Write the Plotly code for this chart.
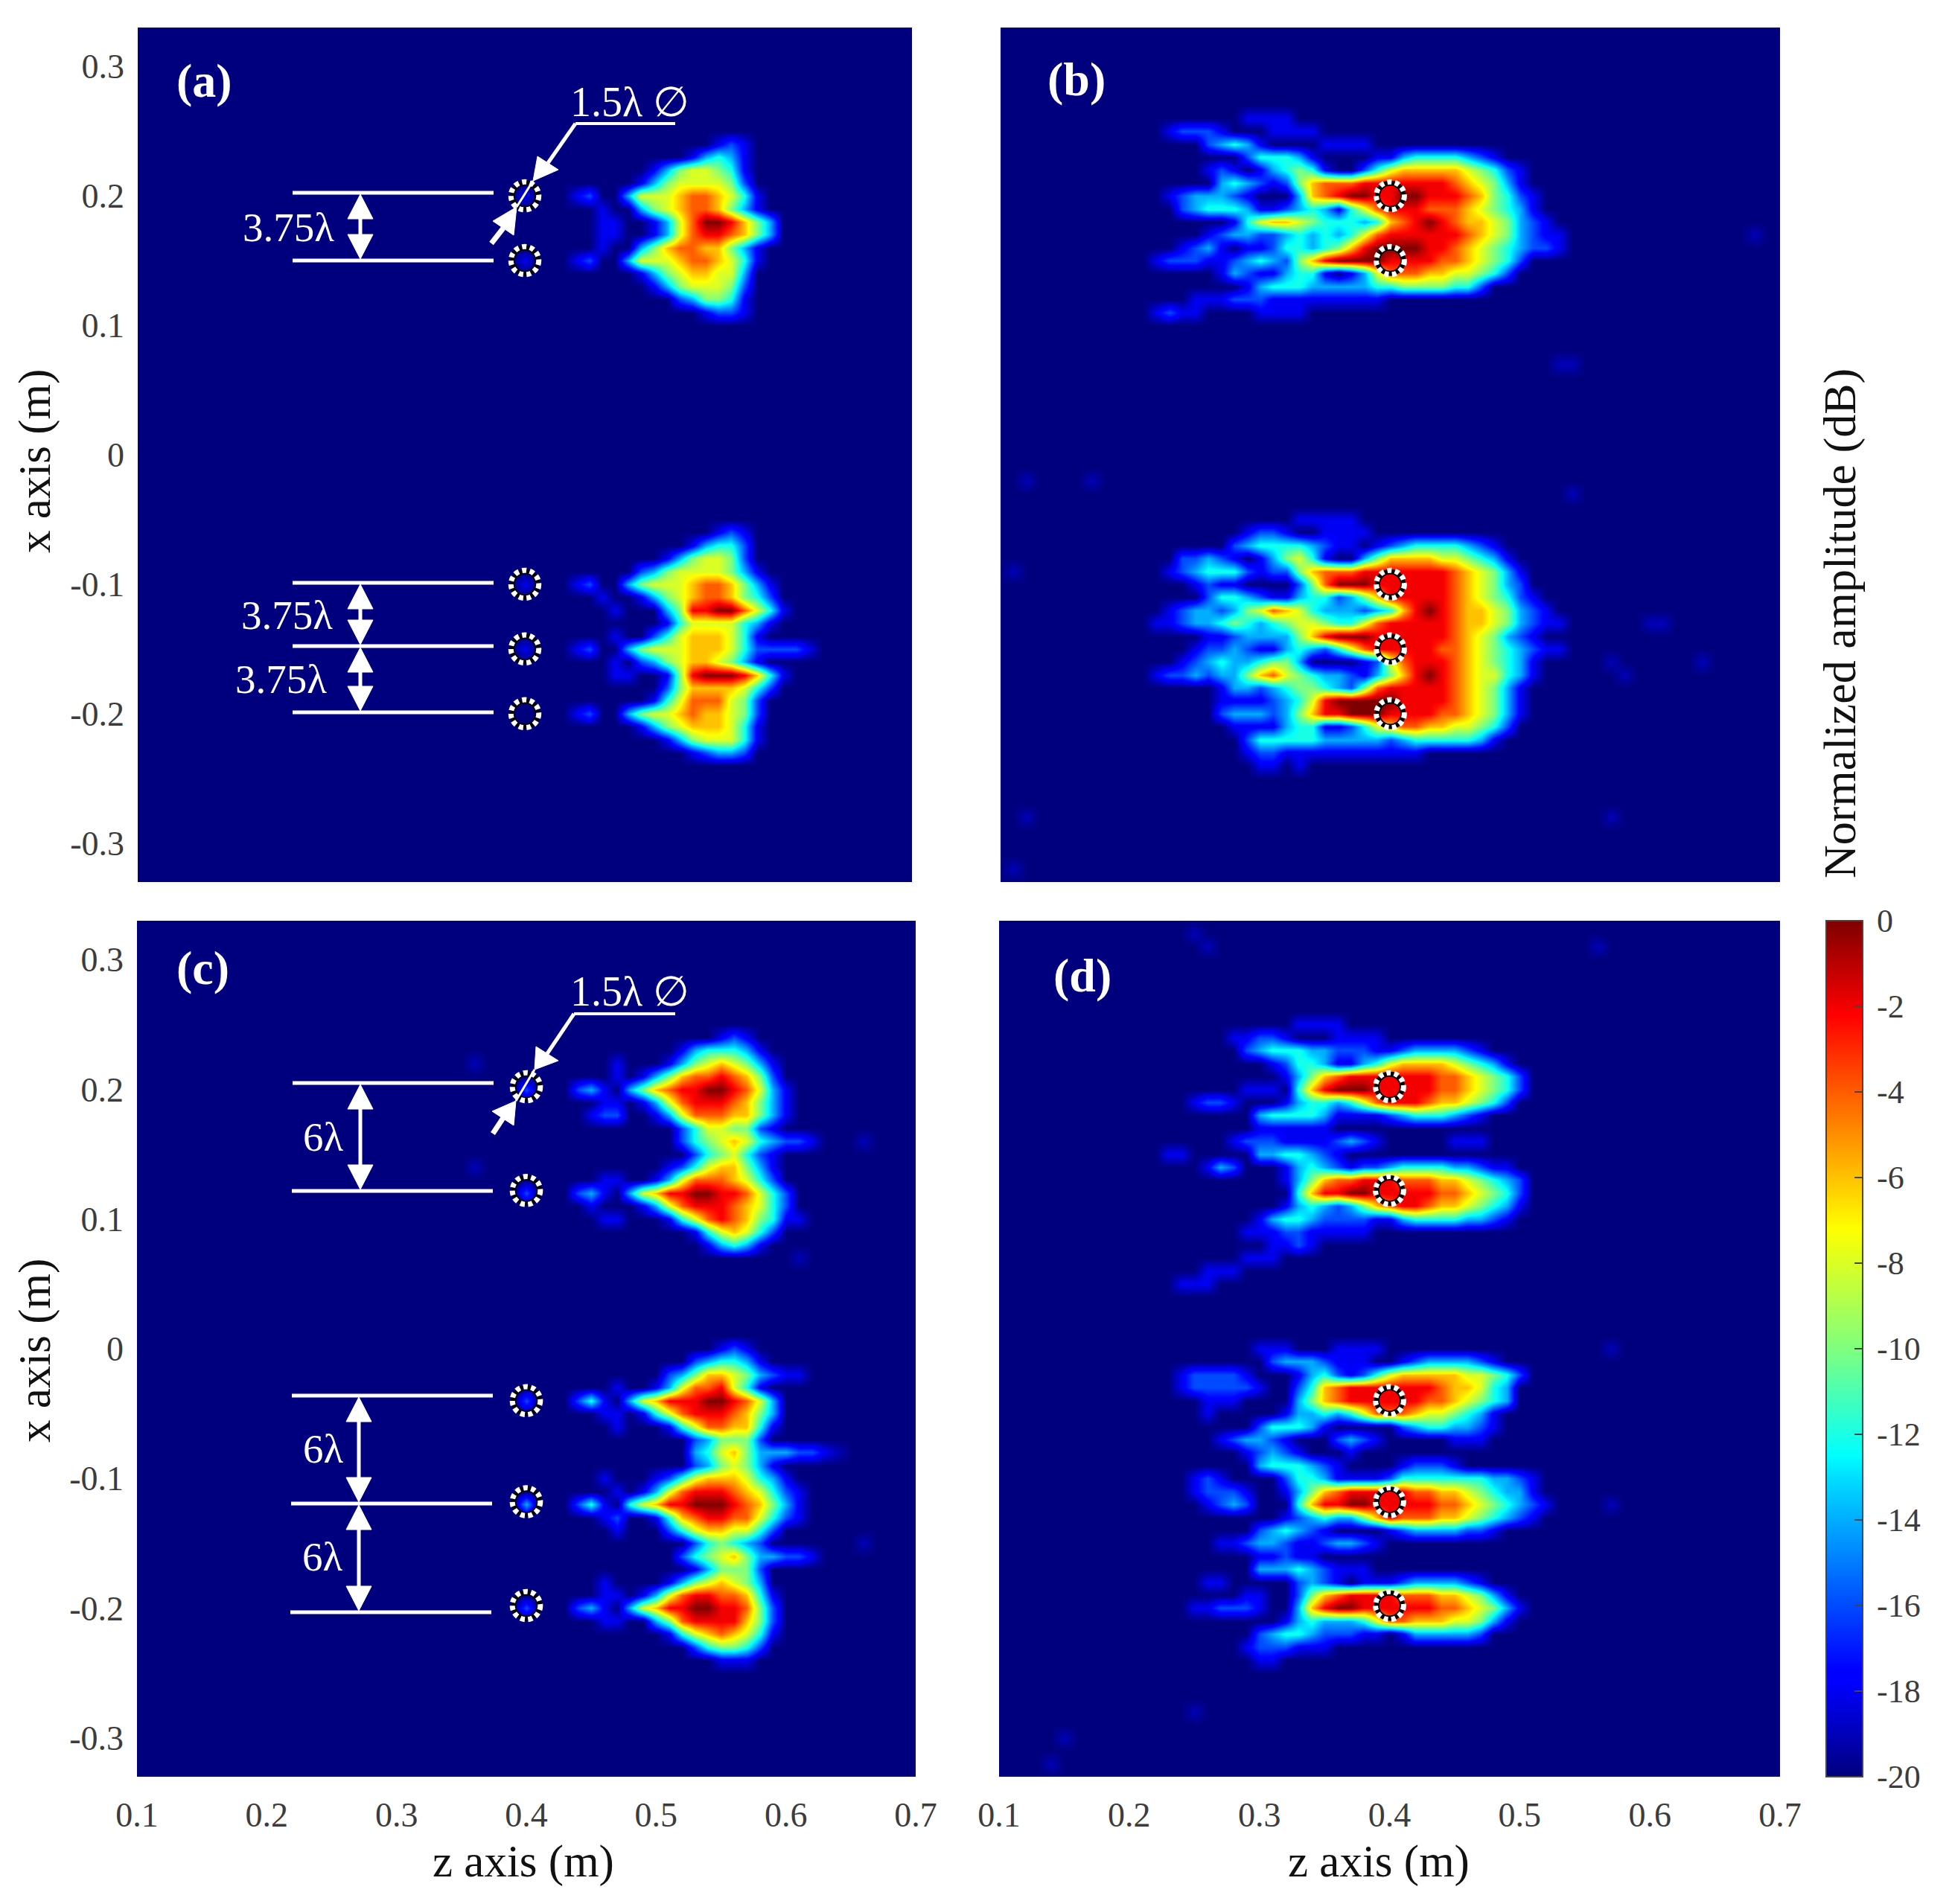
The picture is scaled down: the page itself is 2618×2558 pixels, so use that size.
import numpy as np
import plotly.graph_objects as go

W = 2618
H = 2558

Z_TICKS = [0.1, 0.2, 0.3, 0.4, 0.5, 0.6, 0.7]
Z_LABELS = ["0.1", "0.2", "0.3", "0.4", "0.5", "0.6", "0.7"]
X_TICKS = [0.3, 0.2, 0.1, 0, -0.1, -0.2, -0.3]
X_LABELS = ["0.3", "0.2", "0.1", "0", "-0.1", "-0.2", "-0.3"]
DB_TICKS = [0, -2, -4, -6, -8, -10, -12, -14, -16, -18, -20]
DB_LABELS = ["\u20090", "\u2009-2", "\u2009-4", "\u2009-6", "\u2009-8", "\u2009-10", "\u2009-12",
             "\u2009-14", "\u2009-16", "\u2009-18", "\u2009-20"]

# targets, x position in m (all at z = 0.4 m)
TARGET_Z = 0.4
A_TARGETS = [0.2, 0.15, -0.1, -0.15, -0.2]
C_TARGETS = [0.202, 0.122, -0.04, -0.118, -0.198]

# image values, one run per tuple: (x, first z, levels)
# a level is one hex digit, dB = -20 + 2 * level
A_ROWS = [
    (0.24, 0.55, "121"), (0.23, 0.53, "13431"), (0.22, 0.50, "13566541"),
    (0.21, 0.49, "135666652"), (0.20, 0.44, "12"), (0.20, 0.48, "36667887641"),
    (0.20, 0.40, "1"), (0.19, 0.46, "1"), (0.19, 0.49, "3567887531"),
    (0.18, 0.46, "11"), (0.18, 0.50, "1368aa9753"), (0.17, 0.46, "11"),
    (0.17, 0.50, "1368998753"), (0.16, 0.46, "1"), (0.16, 0.49, "3578877531"),
    (0.15, 0.40, "1"), (0.15, 0.44, "12"), (0.15, 0.48, "36667887641"),
    (0.14, 0.49, "135677663"), (0.13, 0.50, "13566652"), (0.12, 0.52, "235541"),
    (0.11, 0.54, "1221"),
    (-0.06, 0.55, "121"), (-0.07, 0.53, "13442"), (-0.08, 0.51, "1356652"),
    (-0.09, 0.49, "2356666531"), (-0.10, 0.40, "1"), (-0.10, 0.44, "12"),
    (-0.10, 0.48, "356667887531"), (-0.11, 0.46, "1"), (-0.11, 0.49, "13567887542"),
    (-0.12, 0.47, "1"), (-0.12, 0.51, "3599aa8641"), (-0.13, 0.51, "146666431"),
    (-0.14, 0.47, "1"), (-0.14, 0.50, "246777641"), (-0.15, 0.40, "1"),
    (-0.15, 0.44, "12"), (-0.15, 0.48, "356667776422221"), (-0.16, 0.47, "1"),
    (-0.16, 0.49, "2356776531"), (-0.17, 0.47, "11"), (-0.17, 0.51, "159aaa9741"),
    (-0.18, 0.51, "257777642"), (-0.19, 0.50, "146888652"), (-0.20, 0.44, "12"),
    (-0.20, 0.48, "35667877652"), (-0.21, 0.49, "1356777641"), (-0.22, 0.51, "13566641"),
    (-0.23, 0.53, "12332"),
]

B_ROWS = [
    (0.26, 0.29, "1111"), (0.25, 0.23, "12221"), (0.25, 0.31, "1111"),
    (0.24, 0.26, "23431"), (0.24, 0.35, "1111"), (0.23, 0.29, "244431"),
    (0.23, 0.39, "1134444321"), (0.22, 0.26, "121"), (0.22, 0.30, "134541"),
    (0.22, 0.38, "2467777765421"), (0.21, 0.27, "343212578889999999876531"),
    (0.20, 0.23, "1233321"), (0.20, 0.33, "3789aa99aa999875421"),
    (0.19, 0.24, "2344431123431468999888765431"),
    (0.18, 0.28, "146776544434789a987765321"),
    (0.17, 0.26, "1233223434346899999987653211"),
    (0.16, 0.24, "123101124434579aaaa99876543221"),
    (0.15, 0.22, "12221123432579aaaa99998876542"),
    (0.14, 0.27, "13211344101368887766542"),
    (0.13, 0.29, "1344433333445555442"),
    (0.12, 0.25, "111222111111111"), (0.11, 0.22, "1211"), (0.11, 0.30, "1111"),
    (-0.05, 0.33, "11111"), (-0.06, 0.29, "1221"), (-0.06, 0.35, "1111"),
    (-0.07, 0.28, "2344443211"), (-0.07, 0.39, "1234444321"), (-0.08, 0.24, "22321"),
    (-0.08, 0.30, "135641"), (-0.08, 0.38, "357777665431"),
    (-0.09, 0.23, "1234442122578889999999876531"),
    (-0.10, 0.25, "1211"), (-0.10, 0.33, "258aaa999999876532"),
    (-0.11, 0.26, "24432113442357999998765421"),
    (-0.12, 0.23, "12332356876433323479a987765321"),
    (-0.13, 0.22, "11233454345665446899999877653211"),
    (-0.14, 0.26, "1123333579aaa9999998765321"),
    (-0.15, 0.25, "12232113432468999998876543211"),
    (-0.16, 0.24, "1234334553"), (-0.16, 0.38, "12"),
    (-0.16, 0.40, "689998765431"),
    (-0.17, 0.22, "122323357865433213579a98766431"),
    (-0.18, 0.27, "133234554325899999876531"),
    (-0.19, 0.27, "111123469aaaaa9999876531"),
    (-0.20, 0.27, "2333235799aaa99998876531"),
    (-0.21, 0.28, "1111344112467887766542"),
    (-0.22, 0.29, "24444433333234444431"),
    (-0.23, 0.29, "12211111111111"), (-0.24, 0.30, "11"), (-0.24, 0.33, "1"),
]
# barely visible spots, about -19 dB: (x, z)
B_FAINT = [(0.172, 0.68), (0.075, 0.53), (0.07, 0.54), (-0.035, 0.54), (-0.023, 0.12),
           (-0.018, 0.17), (-0.126, 0.60), (-0.126, 0.61), (-0.162, 0.57), (-0.165, 0.58),
           (-0.163, 0.64), (-0.28, 0.12), (-0.316, 0.11), (-0.28, 0.57), (-0.09, 0.11)]

C_ROWS = [
    (0.24, 0.55, "121"), (0.23, 0.52, "1344431"), (0.22, 0.47, "1"),
    (0.22, 0.51, "135676531"), (0.21, 0.47, "1"), (0.21, 0.49, "13578898752"),
    (0.20, 0.40, "2"), (0.20, 0.44, "231"), (0.20, 0.48, "357899aa98631"),
    (0.19, 0.46, "11"), (0.19, 0.49, "136899987531"), (0.18, 0.45, "122"),
    (0.18, 0.50, "13688877531"), (0.17, 0.52, "24665521"), (0.16, 0.52, "24567643221"),
    (0.15, 0.53, "2456421"), (0.14, 0.51, "124677531"), (0.13, 0.46, "11"),
    (0.13, 0.50, "1368887642"), (0.12, 0.40, "2"), (0.12, 0.44, "231"),
    (0.12, 0.48, "36799aa998642"), (0.11, 0.45, "1"),
    (0.11, 0.49, "136899987642"), (0.10, 0.46, "11"), (0.10, 0.51, "14689875411"),
    (0.09, 0.53, "1467642"), (0.08, 0.54, "13431"),
    (0.0, 0.55, "121"), (-0.01, 0.53, "234431"), (-0.02, 0.51, "23577653211"),
    (-0.03, 0.47, "1"), (-0.03, 0.50, "136889641"), (-0.04, 0.40, "2"), (-0.04, 0.44, "241"),
    (-0.04, 0.48, "367999aa9863"), (-0.05, 0.46, "11"),
    (-0.05, 0.49, "14689998753"), (-0.06, 0.47, "1"),
    (-0.06, 0.51, "146887741"), (-0.07, 0.53, "235552"), (-0.08, 0.53, "34675333221"),
    (-0.09, 0.53, "2356531"), (-0.10, 0.46, "1"), (-0.10, 0.50, "12467776431"),
    (-0.11, 0.47, "1"), (-0.11, 0.49, "1368999876421"), (-0.12, 0.40, "3"),
    (-0.12, 0.44, "241"), (-0.12, 0.48, "46799aaa987531"),
    (-0.13, 0.46, "12"), (-0.13, 0.50, "147899886421"), (-0.14, 0.47, "1"),
    (-0.14, 0.51, "246776642"), (-0.15, 0.53, "245432"), (-0.16, 0.52, "24567533221"),
    (-0.17, 0.53, "135552"), (-0.18, 0.46, "1"), (-0.18, 0.51, "13567653"),
    (-0.19, 0.46, "11"), (-0.19, 0.49, "13689988741"), (-0.20, 0.40, "2"),
    (-0.20, 0.44, "231"), (-0.20, 0.48, "36799aa99852"),
    (-0.21, 0.46, "11"), (-0.21, 0.50, "3589999752"), (-0.22, 0.51, "146787641"),
    (-0.23, 0.53, "245542"), (-0.24, 0.55, "111"),
]
# barely visible spots: (x, z)
C_FAINT = [(0.224, 0.356), (0.144, 0.36), (0.16, 0.66), (0.07, 0.61), (-0.155, 0.66), (-0.08, 0.64)]

D_ROWS = [
    (0.25, 0.33, "1111"), (0.24, 0.28, "11221"), (0.24, 0.36, "1111"),
    (0.23, 0.29, "2344433222112333321"),
    (0.22, 0.31, "1244311346777765431"),
    (0.21, 0.32, "1357899999998876542"),
    (0.20, 0.29, "111"), (0.20, 0.33, "479aaa999998876542"),
    (0.19, 0.25, "1221"), (0.19, 0.32, "134434689998776542"),
    (0.18, 0.30, "344443111123444321"),
    (0.17, 0.30, "111111"), (0.16, 0.28, "122211112321"), (0.16, 0.45, "111"),
    (0.15, 0.23, "11"), (0.15, 0.30, "3344321"), (0.14, 0.26, "132"),
    (0.14, 0.32, "134321223444433211"),
    (0.13, 0.32, "1357889998887765432"),
    (0.12, 0.33, "4799aa999998876542"),
    (0.11, 0.32, "1343235789987765431"),
    (0.10, 0.30, "13443222211344443321"),
    (0.09, 0.29, "1112211111"), (0.08, 0.31, "1121"), (0.07, 0.29, "111"),
    (0.06, 0.26, "111"), (0.05, 0.24, "111"),
    (0.0, 0.30, "111"), (0.0, 0.36, "1111"), (-0.01, 0.31, "23332111"), (-0.01, 0.41, "12333321"),
    (-0.02, 0.24, "122221"), (-0.02, 0.33, "134212467777766542"),
    (-0.03, 0.24, "1222221"), (-0.03, 0.33, "24789999999877643"),
    (-0.04, 0.26, "111"), (-0.04, 0.33, "35789999998876543"),
    (-0.05, 0.26, "1"), (-0.05, 0.32, "13343468887665431"),
    (-0.06, 0.30, "244431"), (-0.06, 0.41, "23443321"),
    (-0.07, 0.27, "123321"), (-0.07, 0.36, "2321"), (-0.07, 0.45, "111"),
    (-0.08, 0.29, "12321"), (-0.08, 0.37, "1"), (-0.09, 0.30, "3444321"),
    (-0.09, 0.41, "12221"), (-0.10, 0.25, "121"), (-0.10, 0.32, "24431111244444443321"),
    (-0.11, 0.25, "12221"), (-0.11, 0.32, "13578999998877654331"),
    (-0.12, 0.26, "1232"), (-0.12, 0.33, "4799aa99999887654321"),
    (-0.13, 0.32, "12343357988877654321"),
    (-0.14, 0.30, "234321"), (-0.14, 0.40, "123333221"),
    (-0.15, 0.27, "1123321123321"), (-0.16, 0.30, "11211"),
    (-0.17, 0.30, "3334321"), (-0.17, 0.37, "11"), (-0.18, 0.26, "11"),
    (-0.18, 0.33, "2321"), (-0.18, 0.38, "1112333321"),
    (-0.19, 0.29, "11"), (-0.19, 0.33, "25789999888776531"),
    (-0.20, 0.25, "112221"), (-0.20, 0.33, "379aa9999998876531"),
    (-0.21, 0.32, "134333468877766531"),
    (-0.22, 0.30, "2344322211"), (-0.22, 0.41, "1333332"),
    (-0.23, 0.29, "1222111"), (-0.24, 0.30, "11"),
]
D_FAINT = [(0.32, 0.25), (0.315, 0.26), (0.0, 0.57), (0.31, 0.56), (-0.12, 0.57), (-0.3, 0.15),
           (-0.32, 0.14), (-0.28, 0.25)]

JET = [[0, "#00007f"], [0.11, "#0000ff"], [0.125, "#0000ff"], [0.35, "#00dfff"], [0.375, "#00ffff"],
       [0.5, "#7fff7f"], [0.64, "#ffff00"], [0.89, "#ff0000"], [1, "#7f0000"]]

SERIF = "Liberation Serif"
TICK_COLOR = "#3c3c3c"


def build_grid(rows, faint=()):
    z_axis = np.round(np.arange(0.10, 0.7001, 0.01), 2)
    x_axis = np.round(np.arange(-0.33, 0.3301, 0.01), 2)
    grid = np.full((len(x_axis), len(z_axis)), -20.0)
    for x, z0, levels in rows:
        row = int(round((x + 0.33) / 0.01))
        col = int(round((z0 - 0.10) / 0.01))
        for i, c in enumerate(levels):
            grid[row, col + i] = -20 + 2 * int(c, 16)
    for x, z in faint:
        grid[int(round((x + 0.33) / 0.01)), int(round((z - 0.10) / 0.01))] = -19
    return z_axis, x_axis, grid


def fx(px):
    return px / W


def fy(py):
    return 1 - py / H


def line(x0, y0, x1, y1, width=5):
    return dict(type="line", xref="paper", yref="paper", x0=fx(x0), y0=fy(y0), x1=fx(x1), y1=fy(y1),
                line=dict(color="white", width=width), layer="above")


def triangle(p1, p2, p3):
    path = f"M {fx(p1[0])} {fy(p1[1])} L {fx(p2[0])} {fy(p2[1])} L {fx(p3[0])} {fy(p3[1])} Z"
    return dict(type="path", xref="paper", yref="paper", path=path, fillcolor="white",
                line=dict(color="white", width=1), layer="above")


def dim_arrow(px, top, bottom):
    # vertical double arrow between two dimension lines
    return [line(px, top + 20, px, bottom - 20, 5),
            triangle((px, top), (px - 17, top + 33), (px + 17, top + 33)),
            triangle((px, bottom), (px - 17, bottom - 33), (px + 17, bottom - 33))]


def leader(x_right, y, x_left, tip, base1, base2, tail, tip2, base3, base4):
    # "1.5 lambda" callout: the elbow line and the pair of arrows on the circle
    return [line(x_left, y, x_right, y, 4),
            line(x_left, y, (base1[0] + base2[0]) / 2, (base1[1] + base2[1]) / 2, 5),
            triangle(tip, base1, base2),
            line(tip[0], tip[1], tip2[0], tip2[1], 3),
            triangle(tip2, base3, base4),
            line(tail[0], tail[1], (base3[0] + base4[0]) / 2, (base3[1] + base4[1]) / 2, 7)]


def target_circles(xaxis, yaxis, targets):
    shapes = []
    for x in targets:
        r = 0.0098
        shapes.append(dict(type="circle", xref=xaxis, yref=yaxis, x0=TARGET_Z - r, x1=TARGET_Z + r,
                           y0=x - r, y1=x + r, line=dict(color="black", width=7), layer="above"))
        r = 0.0108
        shapes.append(dict(type="circle", xref=xaxis, yref=yaxis, x0=TARGET_Z - r, x1=TARGET_Z + r,
                           y0=x - r, y1=x + r, line=dict(color="white", width=7, dash="6px,4.5px"), layer="above"))
    return shapes


def label(text, px, py, size, color="white", bold=False, angle=0):
    if bold:
        text = f"<b>{text}</b>"
    return dict(text=text, x=fx(px), y=fy(py), xref="paper", yref="paper", showarrow=False,
                xanchor="center", yanchor="middle", textangle=angle,
                font=dict(family=SERIF, size=size, color=color))


fig = go.Figure()

# pixel box of every panel: left, right, top, bottom
panels = [
    ("x", "y", (185, 1225, 37, 1185), A_ROWS, (), False, True),
    ("x2", "y2", (1344, 2391, 37, 1185), B_ROWS, B_FAINT, False, False),
    ("x3", "y3", (184, 1230, 1237, 2387), C_ROWS, C_FAINT, True, True),
    ("x4", "y4", (1342, 2391, 1237, 2387), D_ROWS, D_FAINT, True, False),
]

layout_axes = {}
for xname, yname, box, rows, faint, show_x, show_y in panels:
    z_axis, x_axis, grid = build_grid(rows, faint)
    fig.add_trace(go.Heatmap(x=z_axis, y=x_axis, z=grid, xaxis=xname, yaxis=yname,
                             coloraxis="coloraxis", zsmooth="best", hoverinfo="skip"))
    suffix_x = "xaxis" + xname[1:]
    suffix_y = "yaxis" + yname[1:]
    layout_axes[suffix_x] = dict(domain=[fx(box[0]), fx(box[1])], range=[0.1, 0.7], anchor=yname,
                                 tickvals=Z_TICKS, ticktext=Z_LABELS, showticklabels=show_x,
                                 showgrid=False, zeroline=False, ticks="", ticklabelstandoff=20,
                                 tickfont=dict(family=SERIF, size=46, color=TICK_COLOR))
    layout_axes[suffix_y] = dict(domain=[fy(box[3]), fy(box[2])], range=[-0.33, 0.33], anchor=xname,
                                 tickvals=X_TICKS, ticktext=X_LABELS, showticklabels=show_y,
                                 showgrid=False, zeroline=False, ticks="", ticklabelstandoff=17,
                                 tickfont=dict(family=SERIF, size=46, color=TICK_COLOR))

shapes = []
shapes += target_circles("x", "y", A_TARGETS)
shapes += target_circles("x2", "y2", A_TARGETS)
shapes += target_circles("x3", "y3", C_TARGETS)
shapes += target_circles("x4", "y4", C_TARGETS)

# panel (a) dimensions
for y in [259, 350, 783, 868, 957]:
    shapes.append(line(393, y, 663, y, 5))
shapes += dim_arrow(484, 261, 348)
shapes += dim_arrow(484, 785, 866)
shapes += dim_arrow(484, 870, 955)
shapes += leader(907, 166, 773, (716, 243), (722, 210), (750, 228),
                 (660, 327), (694, 278), (662, 297), (690, 316))

# panel (c) dimensions
for y, x0 in [(1455, 393), (1600, 392), (1875, 392), (2020, 391), (2166, 390)]:
    shapes.append(line(x0, y, x0 + 270, y, 5))
shapes += dim_arrow(484, 1457, 1598)
shapes += dim_arrow(482, 1877, 2018)
shapes += dim_arrow(482, 2022, 2164)
shapes += leader(907, 1362, 771, (718, 1437), (720, 1406), (750, 1425),
                 (662, 1523), (693, 1479), (661, 1493), (690, 1512))

annotations = [
    label("(a)", 274, 109, 64, bold=True),
    label("(b)", 1446, 107, 64, bold=True),
    label("(c)", 272, 1300, 64, bold=True),
    label("(d)", 1454, 1310, 64, bold=True),
    label("1.5λ ∅", 846, 137, 56),
    label("1.5λ ∅", 846, 1332, 56),
    label("3.75λ", 387, 305, 55),
    label("3.75λ", 385, 826, 55),
    label("3.75λ", 377, 913, 55),
    label("6λ", 434, 1527, 55),
    label("6λ", 434, 1946, 55),
    label("6λ", 433, 2091, 55),
    label("x axis (m)", 47, 620, 61, color="#111111", angle=-90),
    label("x axis (m)", 47, 1815, 61, color="#111111", angle=-90),
    label("z axis (m)", 703, 2501, 61, color="#111111"),
    label("z axis (m)", 1852, 2501, 61, color="#111111"),
    label("Normalized amplitude (dB)", 2471, 838, 62, color="#111111", angle=-90),
]

fig.update_layout(
    width=W, height=H, autosize=False, margin=dict(l=0, r=0, t=0, b=0, autoexpand=False),
    paper_bgcolor="white", plot_bgcolor="#00007f", showlegend=False,
    shapes=shapes, annotations=annotations,
    coloraxis=dict(
        colorscale=JET, cmin=-20, cmax=0,
        colorbar=dict(x=fx(2453), xanchor="left", y=fy(2387), yanchor="bottom", len=1150 / H, lenmode="fraction",
                      thickness=49, thicknessmode="pixels", xpad=0, ypad=0,
                      outlinecolor="#444444", outlinewidth=2, tickvals=DB_TICKS, ticktext=DB_LABELS,
                      ticks="inside", ticklen=12, tickwidth=2, tickcolor="#444444",
                      tickfont=dict(family=SERIF, size=44, color=TICK_COLOR)),
    ),
    **layout_axes,
)

fig.write_html("out.html", post_script="document.body.style.margin='0';", config={"displayModeBar": False})
